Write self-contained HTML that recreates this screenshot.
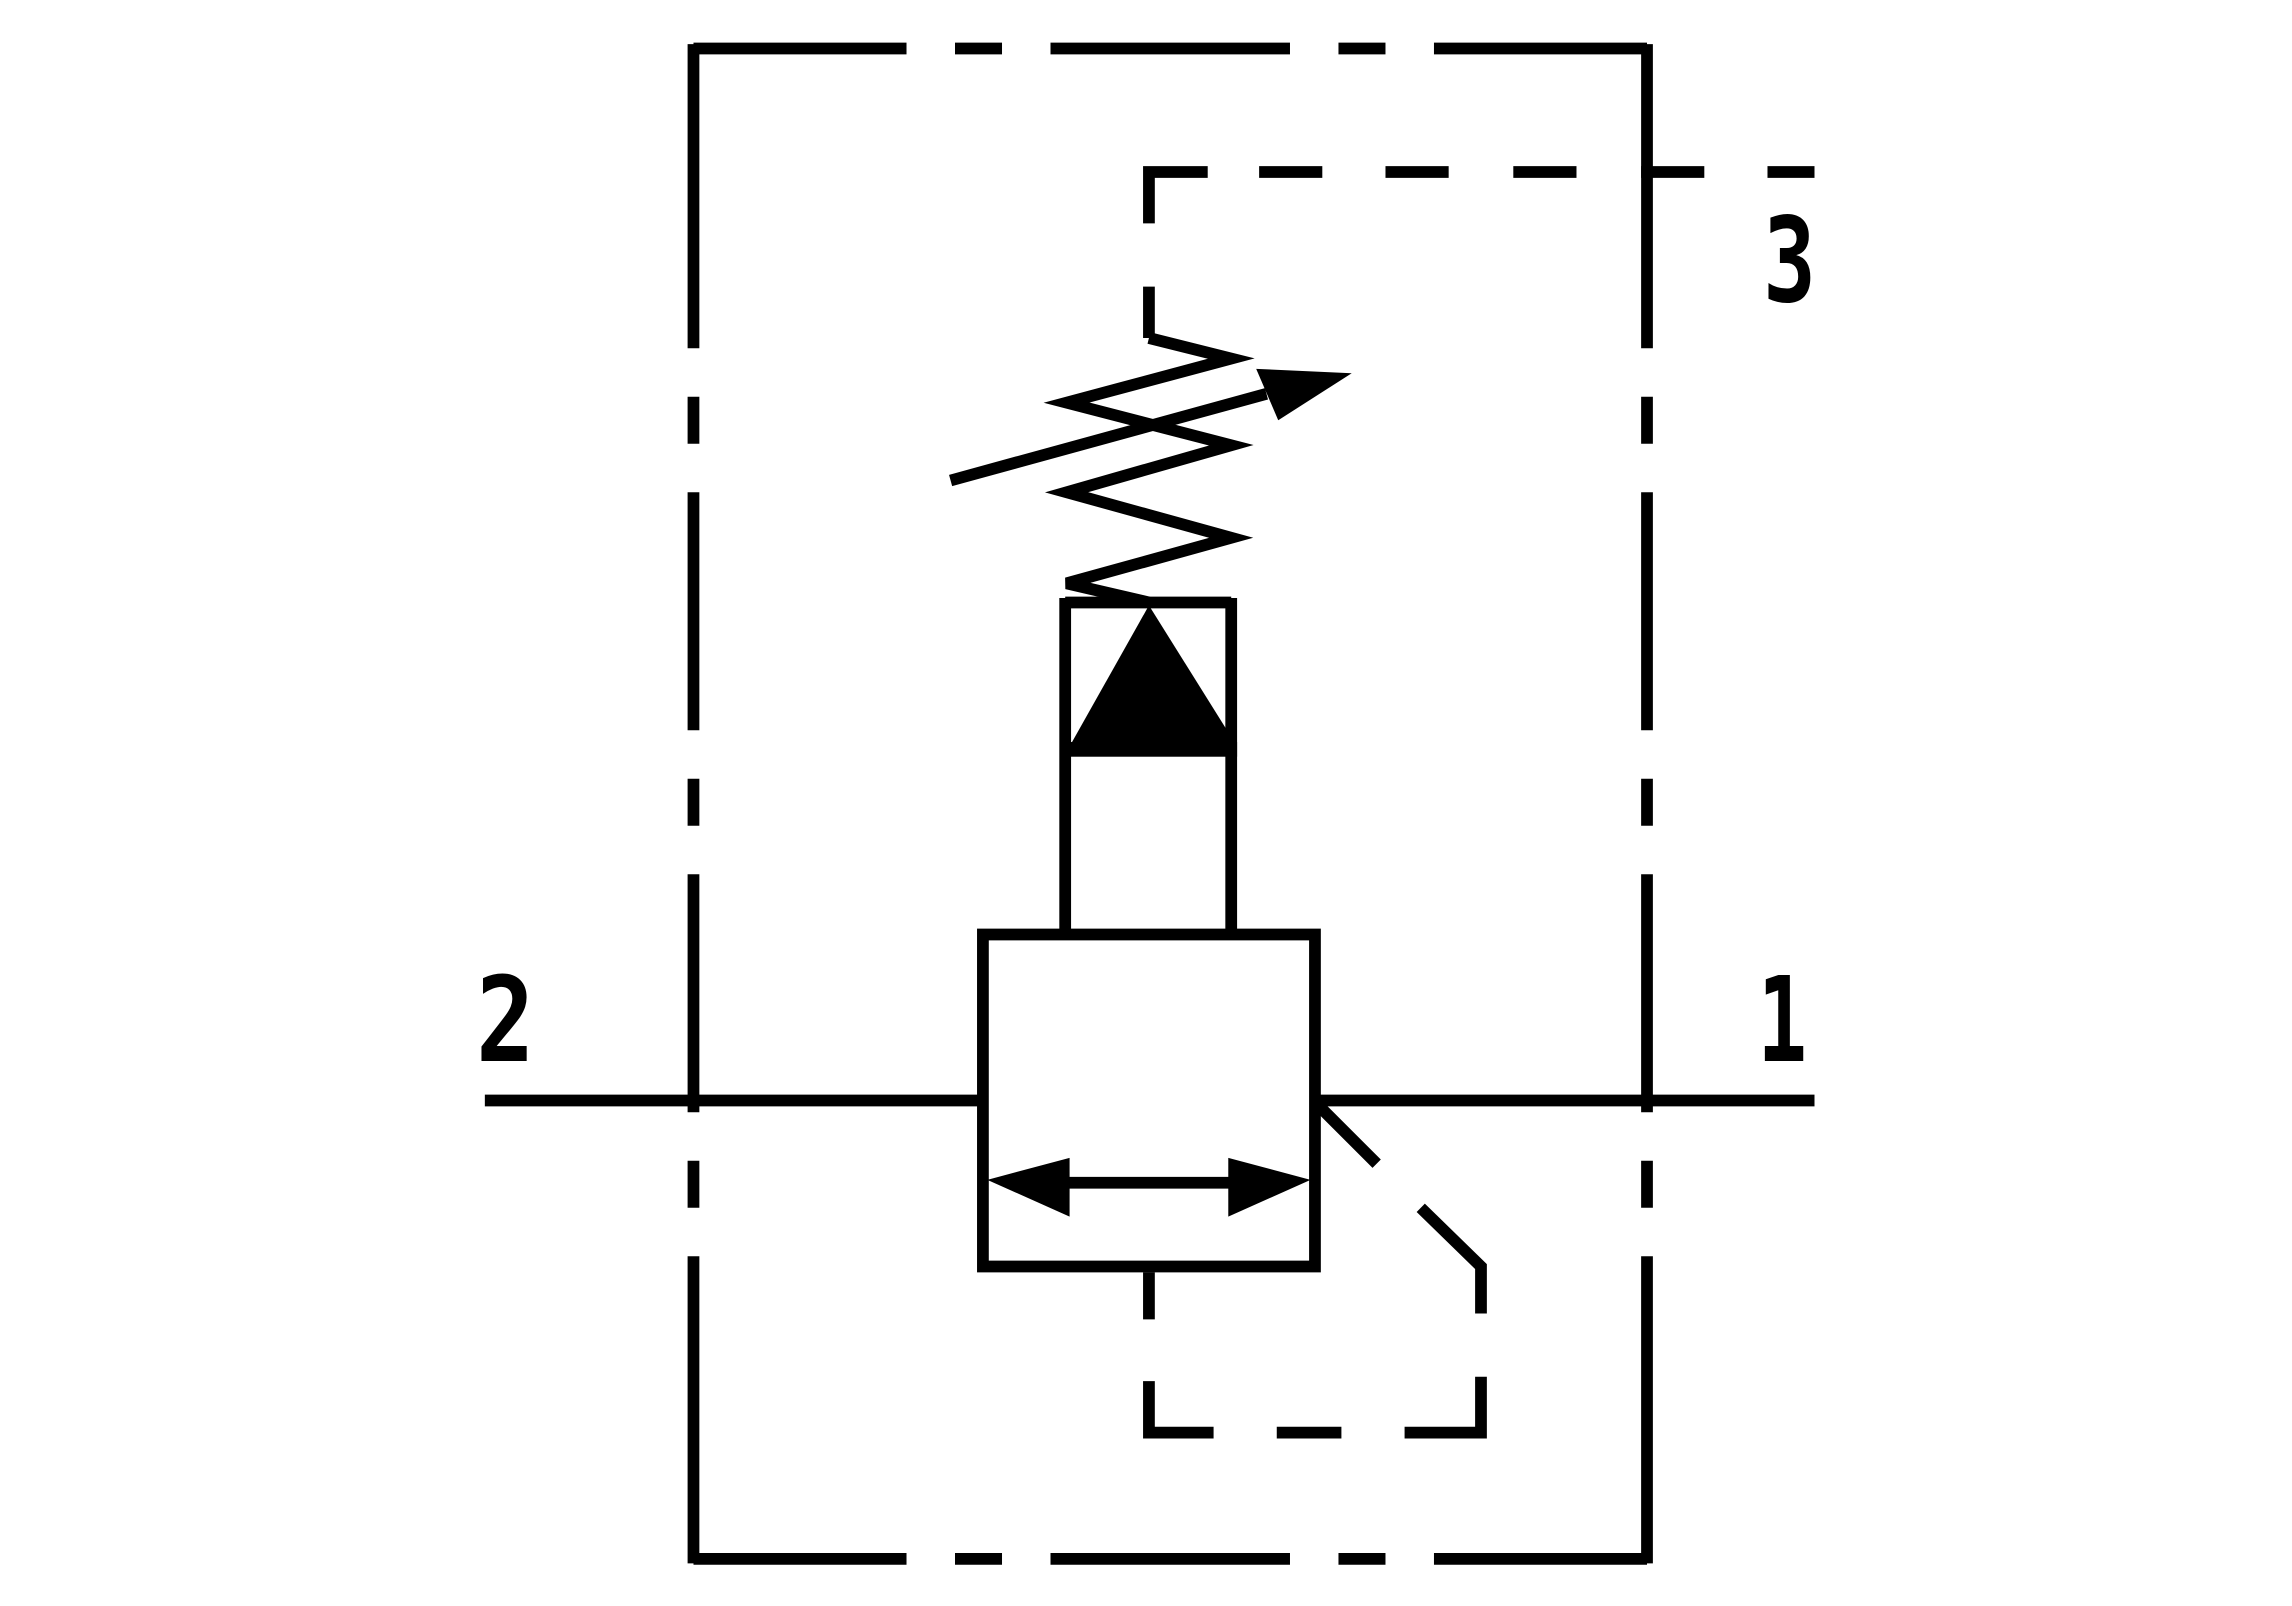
<!DOCTYPE html>
<html><head><meta charset="utf-8"><style>html,body{margin:0;padding:0;background:#fff}svg{display:block}</style></head>
<body>
<svg width="2292" height="1606" viewBox="0 0 1560 1093" xmlns="http://www.w3.org/2000/svg">
<g stroke="#000" stroke-width="8" fill="none" stroke-linecap="butt">
<path d="M472 33H617M650 33H682M715 33H878M911 33H943M976 33H1121"/>
<path d="M472 1061H617M650 1061H682M715 1061H878M911 1061H943M976 1061H1121"/>
<path d="M472 30V237M472 270V302M472 335V497M472 530V562M472 595V757M472 790V822M472 855V1064"/>
<path d="M1121 30V237M1121 270V302M1121 335V497M1121 530V562M1121 595V757M1121 790V822M1121 855V1064"/>
<path d="M782 152V117H822M857 117H900M943 117H986M1030 117H1073M1117 117H1160M1203 117H1235"/>
<path d="M782 195V230"/>
<path d="M782 230L838 244L726 274L838 303L726 335L838 366L726 397L782 410"/>
<path d="M647 327L862 268"/>
<path d="M725 410H838M725 407V636M838 407V636"/>
<path d="M669 636H895V862H669Z"/>
<path d="M330 749H669M895 749H1235"/>
<path d="M720 805H845"/>
<path d="M897 752L937 792M967 822L1008 862V894M1008 937V975H956M913 975H869M826 975H782V940M782 898V866"/>
</g>
<g fill="#000">
<polygon points="855,251 920,254 870,286"/>
<polygon points="782,412 728,508 842,508"/>
<rect x="728" y="505" width="114" height="10"/>
<polygon points="672,803 728,788 728,828"/>
<polygon points="892,803 836,788 836,828"/>
</g>
<g font-family="'DejaVu Sans Mono','Liberation Mono',monospace" font-size="80" font-weight="bold" fill="#000">
<text x="324" y="722" textLength="40" lengthAdjust="spacingAndGlyphs">2</text>
<text x="1196" y="722" textLength="34" lengthAdjust="spacingAndGlyphs">1</text>
<text x="1200" y="205" textLength="36" lengthAdjust="spacingAndGlyphs">3</text>
</g>
</svg>
</body></html>
